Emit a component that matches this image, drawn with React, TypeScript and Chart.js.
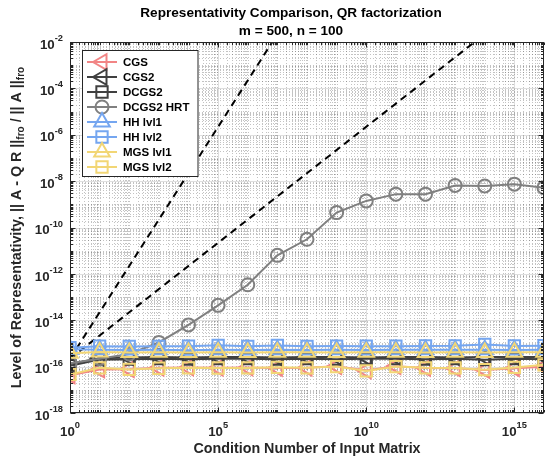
import React, { useEffect, useRef } from "react";
import { Chart, registerables } from "chart.js";
import { drawPoint } from "chart.js/helpers";

Chart.register(...registerables);

// ---------------- data ----------------
const kappa = [1e0, 1e1, 1e2, 1e3, 1e4, 1e5, 1e6, 1e7, 1e8, 1e9, 1e10, 1e11, 1e12, 1e13, 1e14, 1e15, 1e16];

const cgs = [4.2e-17, 7.5e-17, 7.8e-17, 9.0e-17, 9.2e-17, 9.0e-17, 9.2e-17, 8.8e-17, 9.0e-17, 1.05e-16, 6.8e-17, 1.05e-16, 8.8e-17, 8.5e-17, 7.2e-17, 8.6e-17, 1.0e-16];
const cgs2 = [1.3e-16, 2.3e-16, 2.5e-16, 2.6e-16, 2.5e-16, 2.6e-16, 2.6e-16, 2.5e-16, 2.6e-16, 2.6e-16, 2.5e-16, 2.6e-16, 2.6e-16, 2.5e-16, 2.6e-16, 2.6e-16, 2.6e-16];
const dcgs2 = [1.1e-16, 2.0e-16, 2.1e-16, 2.2e-16, 2.1e-16, 2.2e-16, 2.2e-16, 2.1e-16, 2.2e-16, 2.1e-16, 2.2e-16, 2.2e-16, 2.1e-16, 2.2e-16, 2.0e-16, 2.2e-16, 2.1e-16];
const dcgs2Hrt = [1.4e-16, 2.2e-16, 3.5e-16, 1.1e-15, 6.3e-15, 4.4e-14, 3.4e-13, 6.3e-12, 3.1e-11, 4.4e-10, 1.4e-9, 2.75e-9, 2.75e-9, 6.5e-9, 6.2e-9, 7.4e-9, 5.2e-9];
const hhLvl1 = [5.6e-16, 5.4e-16, 5.2e-16, 5.3e-16, 5.1e-16, 5.3e-16, 5.2e-16, 5.4e-16, 5.2e-16, 5.3e-16, 5.2e-16, 5.3e-16, 5.4e-16, 5.3e-16, 5.4e-16, 5.2e-16, 5.3e-16];
const hhLvl2 = [6.5e-16, 7.6e-16, 7.4e-16, 7.5e-16, 7.6e-16, 8.3e-16, 7.5e-16, 8.2e-16, 7.5e-16, 7.7e-16, 7.6e-16, 7.6e-16, 7.8e-16, 7.9e-16, 9.0e-16, 7.8e-16, 8.0e-16];
const mgsLvl1 = [3.8e-16, 4.3e-16, 4.1e-16, 4.2e-16, 4.1e-16, 4.2e-16, 4.1e-16, 4.2e-16, 4.2e-16, 4.1e-16, 4.2e-16, 4.2e-16, 4.1e-16, 4.2e-16, 4.1e-16, 4.2e-16, 4.2e-16];
const mgsLvl2 = [4.6e-17, 8.9e-17, 7.6e-17, 8.5e-17, 8.9e-17, 8.7e-17, 8.8e-17, 9.3e-17, 8.9e-17, 1.0e-16, 6.5e-17, 1.0e-16, 8.9e-17, 8.8e-17, 7.4e-17, 9.2e-17, 1.2e-16];

// reference lines (eps*kappa, eps*kappa^2)
const refLinearX = [1e0, 1e16];
const refLinearY = [2.2e-16, 2.2];
const refQuadX = [1e0, 1e8];
const refQuadY = [2.2e-16, 2.2];

const xTickExps = [0, 5, 10, 15];
const yTickExps = [-18, -16, -14, -12, -10, -8, -6, -4, -2];

const titleLines = ["Representativity Comparison, QR factorization", "m = 500, n = 100"];
const xLabel = "Condition Number of Input Matrix";

type S = { label: string; values: number[]; color: string; style: string; rot: number; r: number };
const series: S[] = [
  { label: "CGS", values: cgs, color: "#F28585", style: "triangle", rot: -90, r: 9 },
  { label: "CGS2", values: cgs2, color: "#404040", style: "triangle", rot: -90, r: 9 },
  { label: "DCGS2", values: dcgs2, color: "#404040", style: "rect", rot: 0, r: 8 },
  { label: "DCGS2 HRT", values: dcgs2Hrt, color: "#808080", style: "circle", rot: 0, r: 6.5 },
  { label: "HH lvl1", values: hhLvl1, color: "#75A6F0", style: "triangle", rot: 0, r: 9 },
  { label: "HH lvl2", values: hhLvl2, color: "#75A6F0", style: "rect", rot: 0, r: 8 },
  { label: "MGS lvl1", values: mgsLvl1, color: "#F2D675", style: "triangle", rot: 0, r: 9 },
  { label: "MGS lvl2", values: mgsLvl2, color: "#F2D675", style: "rect", rot: 0, r: 8 },
];

const FONT = '"Liberation Sans", Arial, Helvetica, sans-serif';
const AX = "#262626";

const num = (k: number, d: number) => Number(`${k}e${d}`);

const matlabPlugin = {
  id: "matlabLook",
  beforeDraw(chart: any) {
    const { ctx } = chart;
    ctx.save();
    ctx.fillStyle = "#ffffff";
    ctx.fillRect(0, 0, chart.width, chart.height);
    ctx.restore();
  },
  beforeDatasetsDraw(chart: any) {
    const { ctx, chartArea: a, scales } = chart;
    const x = scales.x, y = scales.y;
    ctx.save();
    ctx.lineWidth = 1;
    // minor grid (dotted)
    ctx.strokeStyle = "rgba(38,38,38,0.28)";
    ctx.setLineDash([1, 2]);
    ctx.beginPath();
    for (let d = 0; d < 16; d++) {
      for (let k = 1; k <= 9; k++) {
        if (k === 1 && xTickExps.includes(d)) continue;
        const px = Math.round(x.getPixelForValue(num(k, d))) + 0.5;
        ctx.moveTo(px, a.top);
        ctx.lineTo(px, a.bottom);
      }
    }
    for (let d = -18; d < -2; d++) {
      for (let k = 1; k <= 9; k++) {
        if (k === 1 && yTickExps.includes(d)) continue;
        const py = Math.round(y.getPixelForValue(num(k, d))) + 0.5;
        ctx.moveTo(a.left, py);
        ctx.lineTo(a.right, py);
      }
    }
    ctx.stroke();
    // major grid (solid)
    ctx.setLineDash([]);
    ctx.strokeStyle = "rgba(38,38,38,0.15)";
    ctx.beginPath();
    for (const e of xTickExps) {
      const px = Math.round(x.getPixelForValue(num(1, e))) + 0.5;
      ctx.moveTo(px, a.top);
      ctx.lineTo(px, a.bottom);
    }
    for (const e of yTickExps) {
      const py = Math.round(y.getPixelForValue(num(1, e))) + 0.5;
      ctx.moveTo(a.left, py);
      ctx.lineTo(a.right, py);
    }
    ctx.stroke();
    ctx.restore();
  },
  afterDatasetsDraw(chart: any) {
    const { ctx, chartArea: a, scales } = chart;
    const x = scales.x, y = scales.y;
    ctx.save();
    // axes box
    ctx.strokeStyle = AX;
    ctx.lineWidth = 1;
    ctx.setLineDash([]);
    const L = Math.round(a.left) + 0.5, R = Math.round(a.right) - 0.5;
    const T = Math.round(a.top) + 0.5, B = Math.round(a.bottom) - 0.5;
    ctx.strokeRect(L, T, R - L, B - T);
    // ticks (inward, all sides)
    ctx.beginPath();
    for (let d = 0; d <= 16; d++) {
      for (let k = 1; k <= 9; k++) {
        const v = num(k, d);
        if (v > 1e16) break;
        const major = k === 1 && xTickExps.includes(d);
        const len = major ? 5 : 2.5;
        const px = Math.round(x.getPixelForValue(v)) + 0.5;
        ctx.moveTo(px, B); ctx.lineTo(px, B - len);
        ctx.moveTo(px, T); ctx.lineTo(px, T + len);
      }
    }
    for (let d = -18; d <= -2; d++) {
      for (let k = 1; k <= 9; k++) {
        const v = num(k, d);
        if (d === -2 && k > 1) break;
        const major = k === 1 && yTickExps.includes(d);
        const len = major ? 5 : 2.5;
        const py = Math.round(y.getPixelForValue(v)) + 0.5;
        ctx.moveTo(L, py); ctx.lineTo(L + len, py);
        ctx.moveTo(R, py); ctx.lineTo(R - len, py);
      }
    }
    ctx.stroke();

    // tick labels
    const baseFont = `bold 13.3px ${FONT}`;
    const supFont = `bold 9.3px ${FONT}`;
    ctx.fillStyle = AX;
    ctx.textBaseline = "middle";
    ctx.textAlign = "left";
    for (const e of yTickExps) {
      const py = y.getPixelForValue(num(1, e));
      const sup = String(e);
      ctx.font = supFont;
      const sw = ctx.measureText(sup).width;
      ctx.font = baseFont;
      const bw = ctx.measureText("10").width;
      const right = a.left - 7;
      ctx.fillText("10", right - sw - bw, py + 3);
      ctx.font = supFont;
      ctx.fillText(sup, right - sw, py - 3.5);
    }
    for (const e of xTickExps) {
      const px = x.getPixelForValue(num(1, e));
      const sup = String(e);
      ctx.font = supFont;
      const sw = ctx.measureText(sup).width;
      ctx.font = baseFont;
      const bw = ctx.measureText("10").width;
      const start = px - (sw + bw) / 2;
      ctx.fillText("10", start, a.bottom + 19);
      ctx.font = supFont;
      ctx.fillText(sup, start + bw, a.bottom + 12.5);
    }

    // title
    ctx.fillStyle = "#000000";
    ctx.textAlign = "center";
    ctx.font = `bold 13.6px ${FONT}`;
    ctx.fillText(titleLines[0], 291, 13);
    ctx.fillText(titleLines[1], 291, 31);

    // x label
    ctx.fillStyle = AX;
    ctx.font = `bold 14.3px ${FONT}`;
    ctx.fillText(xLabel, (a.left + a.right) / 2, 449);

    // y label with subscripts
    const parts: [string, boolean][] = [
      ["Level of Representativity, || A - Q R ||", false],
      ["fro", true],
      [" / || A ||", false],
      ["fro", true],
    ];
    const mainF = `bold 14.3px ${FONT}`;
    const subF = `bold 10px ${FONT}`;
    let total = 0;
    const widths = parts.map(([t, s]) => {
      ctx.font = s ? subF : mainF;
      const w = ctx.measureText(t).width;
      total += w;
      return w;
    });
    ctx.save();
    ctx.translate(17, (a.top + a.bottom) / 2);
    ctx.rotate(-Math.PI / 2);
    ctx.textAlign = "left";
    let cx = -total / 2;
    parts.forEach(([t, s], i) => {
      ctx.font = s ? subF : mainF;
      ctx.fillText(t, cx, s ? 4.5 : 0);
      cx += widths[i];
    });
    ctx.restore();

    // legend
    const lx = 82.5, ly = 50.5, lw = 115.5, lh = 126;
    ctx.fillStyle = "#ffffff";
    ctx.fillRect(lx, ly, lw, lh);
    ctx.strokeStyle = AX;
    ctx.lineWidth = 1;
    ctx.strokeRect(lx, ly, lw, lh);
    series.forEach((s, i) => {
      const cy = 62 + i * 15;
      ctx.strokeStyle = s.color;
      ctx.lineWidth = 2;
      ctx.beginPath();
      ctx.moveTo(87, cy);
      ctx.lineTo(117, cy);
      ctx.stroke();
      ctx.fillStyle = "rgba(0,0,0,0)";
      drawPoint(ctx, { pointStyle: s.style, rotation: s.rot, radius: s.r, borderWidth: 2 } as any, 102, cy);
      ctx.fillStyle = "#000000";
      ctx.font = `bold 11.5px ${FONT}`;
      ctx.textAlign = "left";
      ctx.textBaseline = "middle";
      ctx.fillText(s.label, 123, cy + 0.5);
    });
    ctx.restore();
  },
};

export default function App() {
  const ref = useRef<HTMLCanvasElement | null>(null);
  useEffect(() => {
    if (!ref.current) return;
    const datasets: any[] = series.map((s, i) => ({
      label: s.label,
      data: kappa.map((k, j) => ({ x: k, y: s.values[j] })),
      borderColor: s.color,
      backgroundColor: "rgba(0,0,0,0)",
      pointBackgroundColor: "rgba(0,0,0,0)",
      pointBorderColor: s.color,
      borderWidth: 2,
      pointBorderWidth: 2,
      pointStyle: s.style,
      pointRotation: s.rot,
      pointRadius: s.r,
      tension: 0,
      order: 20 - i,
    }));
    datasets.push({
      label: "eps*kappa",
      data: refLinearX.map((k, j) => ({ x: k, y: refLinearY[j] })),
      borderColor: "#000000",
      borderWidth: 2,
      borderDash: [7, 5],
      pointRadius: 0,
      clip: 0,
      order: 100,
    });
    datasets.push({
      label: "eps*kappa^2",
      data: refQuadX.map((k, j) => ({ x: k, y: refQuadY[j] })),
      borderColor: "#000000",
      borderWidth: 2,
      borderDash: [7, 5],
      pointRadius: 0,
      clip: 0,
      order: 100,
    });
    const chart = new Chart(ref.current, {
      type: "line",
      data: { datasets },
      options: {
        animation: false,
        responsive: false,
        maintainAspectRatio: false,
        layout: { padding: { left: 70, top: 42, right: 5, bottom: 48 } },
        scales: {
          x: { type: "logarithmic", min: 1, max: 1e16, display: false },
          y: { type: "logarithmic", min: 1e-18, max: 1e-2, display: false },
        },
        plugins: {
          legend: { display: false },
          tooltip: { enabled: false },
          title: { display: false },
        },
      },
      plugins: [matlabPlugin],
    });
    return () => chart.destroy();
  }, []);
  return (
    <div style={{ position: "fixed", left: 0, top: 0, width: 555, height: 461, background: "#fff" }}>
      <canvas ref={ref} width={555} height={461} style={{ display: "block" }} />
    </div>
  );
}
